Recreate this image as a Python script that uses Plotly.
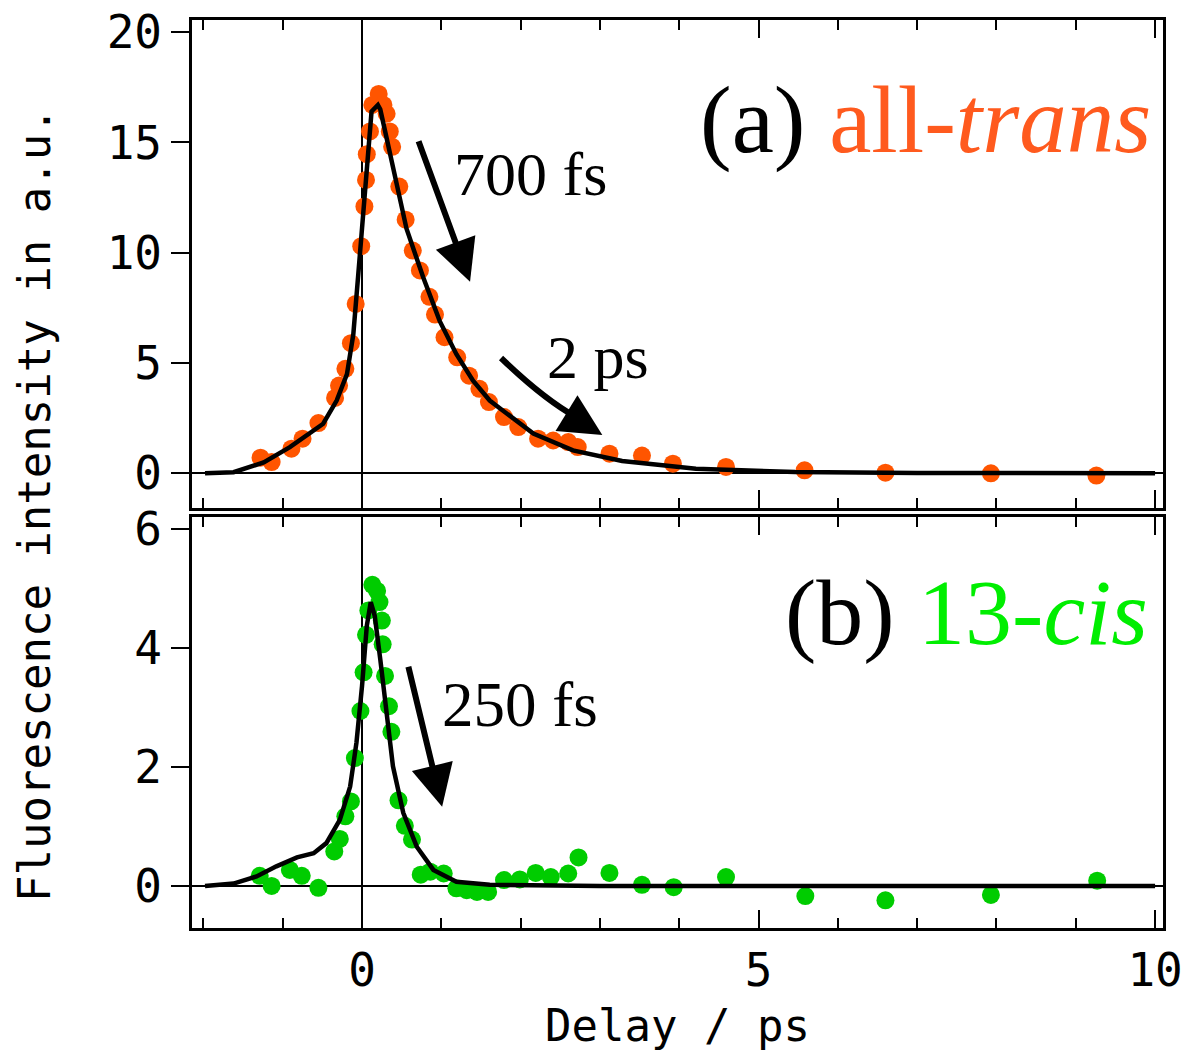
import plotly.graph_objects as go

# ---------------- data ----------------
trans_x = [-1.28, -1.14, -0.89, -0.75, -0.55, -0.34, -0.29, -0.21, -0.14, -0.08, -0.01, 0.03, 0.05, 0.06,
           0.10, 0.13, 0.21, 0.27, 0.31, 0.35, 0.38, 0.47, 0.55, 0.64, 0.73, 0.85, 0.92, 1.04, 1.20, 1.35,
           1.48, 1.60, 1.79, 1.97, 2.22, 2.41, 2.60, 2.72, 3.12, 3.53, 3.92, 4.59, 5.58, 6.60, 7.93, 9.26]
trans_y = [0.71, 0.51, 1.12, 1.57, 2.28, 3.42, 3.98, 4.74, 5.9, 7.68, 10.3, 12.1, 13.3, 14.47,
           15.5, 16.7, 17.2, 16.7, 16.3, 15.5, 14.8, 13.0, 11.5, 10.1, 9.2, 8.0, 7.2, 6.17, 5.26, 4.43,
           3.83, 3.23, 2.55, 2.1, 1.57, 1.49, 1.42, 1.19, 0.89, 0.81, 0.44, 0.29, 0.14, 0.03, 0.0, -0.1]

trans_fit_x = [-1.98, -1.62, -1.24, -0.91, -0.49, -0.32, -0.19, -0.11, -0.05, 0.02, 0.08, 0.12, 0.20,
               0.23, 0.31, 0.42, 0.56, 0.77, 0.98, 1.19, 1.40, 1.61, 1.72, 2.16, 2.66, 3.28, 4.21, 5.46,
               7.0, 10.0]
trans_fit_y = [0.0, 0.05, 0.5, 1.19, 2.25, 3.3, 4.5, 6.3, 8.9, 11.9, 14.9, 16.4, 16.7,
               16.5, 15.2, 13.4, 11.1, 8.9, 6.9, 5.4, 4.2, 3.3, 3.0, 1.8, 1.04, 0.56, 0.21, 0.06,
               0.02, 0.0]

cis_x = [-1.29, -1.14, -0.91, -0.76, -0.55, -0.35, -0.28, -0.21, -0.14, -0.09, -0.02, 0.02, 0.05, 0.08,
         0.13, 0.19, 0.22, 0.25, 0.26, 0.29, 0.34, 0.37, 0.46, 0.54, 0.63, 0.74, 0.86, 1.03, 1.19, 1.32,
         1.45, 1.59, 1.79, 1.99, 2.19, 2.38, 2.60, 2.73, 3.12, 3.53, 3.93, 4.59, 5.59, 6.60, 7.93, 9.27]
cis_y = [0.17, 0.0, 0.27, 0.17, -0.03, 0.58, 0.79, 1.17, 1.42, 2.15, 2.94, 3.59, 4.22, 4.63,
         5.06, 4.96, 4.77, 4.46, 4.06, 3.53, 3.02, 2.59, 1.44, 1.01, 0.78, 0.19, 0.24, 0.21, -0.04, -0.07,
         -0.1, -0.1, 0.1, 0.11, 0.22, 0.15, 0.21, 0.48, 0.22, 0.02, -0.02, 0.15, -0.17, -0.24, -0.15, 0.09]

cis_fit_x = [-1.98, -1.62, -1.33, -1.08, -0.82, -0.61, -0.45, -0.28, -0.15, -0.07, 0.0, 0.06, 0.11,
             0.16, 0.23, 0.31, 0.39, 0.52, 0.69, 0.9, 1.19, 1.61, 3.0, 10.0]
cis_fit_y = [0.0, 0.04, 0.16, 0.33, 0.48, 0.55, 0.72, 1.11, 1.67, 2.41, 3.36, 4.37, 4.77,
             4.54, 3.81, 2.91, 2.01, 1.23, 0.66, 0.27, 0.07, 0.02, 0.0, 0.0]

x_ticks = [0, 5, 10]
top_y_ticks = [0, 5, 10, 15, 20]
bot_y_ticks = [0, 2, 4, 6]

ORANGE = "#ff5500"
ORANGE_TXT = "#ff5a1e"
GREEN = "#00cc00"
GREEN_TXT = "#00ee00"
SANS = "DejaVu Sans Mono"
SERIF = "Liberation Serif"

fig = go.Figure()

fig.add_trace(go.Scatter(x=trans_x, y=trans_y, mode="markers",
                         marker=dict(color=ORANGE, size=18, line=dict(width=0)),
                         xaxis="x", yaxis="y", showlegend=False))
fig.add_trace(go.Scatter(x=trans_fit_x, y=trans_fit_y, mode="lines",
                         line=dict(color="black", width=4.5),
                         xaxis="x", yaxis="y", showlegend=False))
fig.add_trace(go.Scatter(x=cis_x, y=cis_y, mode="markers",
                         marker=dict(color=GREEN, size=18, line=dict(width=0)),
                         xaxis="x2", yaxis="y2", showlegend=False))
fig.add_trace(go.Scatter(x=cis_fit_x, y=cis_fit_y, mode="lines",
                         line=dict(color="black", width=4.5),
                         xaxis="x2", yaxis="y2", showlegend=False))

W, H = 1188, 1057
xdom = [192 / W, 1163 / W]
ytop = [1 - 508 / H, 1 - 20 / H]
ybot = [1 - 928 / H, 1 - 517 / H]

xcommon = dict(range=[-2.144, 10.10], tickvals=x_ticks, ticks="inside", ticklen=18, tickwidth=2,
               tickcolor="black", showline=True, linecolor="black", linewidth=2.5, mirror="ticks",
               showgrid=False, zeroline=True, zerolinecolor="black", zerolinewidth=1.5,
               automargin=False,
               minor=dict(dtick=1, tick0=0, ticks="inside", ticklen=10, tickwidth=2, tickcolor="black",
                          showgrid=False),
               tickfont=dict(family=SANS, size=46, color="black"), domain=xdom)
ycommon = dict(ticks="outside", ticklen=18, tickwidth=2, tickcolor="black", showline=True,
               linecolor="black", linewidth=2.5, mirror=True, showgrid=False, zeroline=True,
               zerolinecolor="black", zerolinewidth=1.5, automargin=False,
               tickfont=dict(family=SANS, size=46, color="black"))

fig.update_layout(
    width=W, height=H,
    margin=dict(l=0, r=0, t=0, b=0, pad=0),
    plot_bgcolor="white", paper_bgcolor="white",
    font=dict(family=SANS, color="black"),
    xaxis=dict(**xcommon, anchor="y", showticklabels=False),
    yaxis=dict(**ycommon, domain=ytop, range=[-1.57, 20.55], tickvals=top_y_ticks, anchor="x"),
    xaxis2=dict(**xcommon, anchor="y2", showticklabels=True),
    yaxis2=dict(**ycommon, domain=ybot, range=[-0.706, 6.2], tickvals=bot_y_ticks, anchor="x2"),
)

# curved arrow body (2 ps)
fig.add_shape(type="path", xref="x", yref="y",
              path="M 1.753,5.23 Q 2.28,3.40 2.70,2.55",
              line=dict(color="black", width=6))

annotations = [
    # titles
    dict(text="Fluorescence intensity in a.u.", xref="paper", yref="paper", x=35 / W, y=1 - 505 / H,
         textangle=-90, showarrow=False, font=dict(family=SANS, size=44, color="black"),
         xanchor="center", yanchor="middle"),
    dict(text="Delay / ps", xref="paper", yref="paper", x=677 / W, y=1 - 1025 / H,
         showarrow=False, font=dict(family=SANS, size=44, color="black"),
         xanchor="center", yanchor="middle"),
    # panel labels
    dict(text="(a) <span style='color:%s'>all-<i>trans</i></span>" % ORANGE_TXT, xref="x", yref="y",
         x=9.97, y=16.0, showarrow=False, xanchor="right", yanchor="middle",
         font=dict(family=SERIF, size=95, color="black")),
    dict(text="(b) <span style='color:%s'>13-<i>cis</i></span>" % GREEN_TXT, xref="x2", yref="y2",
         x=9.93, y=4.6, showarrow=False, xanchor="right", yanchor="middle",
         font=dict(family=SERIF, size=94, color="black")),
    dict(text="700 fs", xref="x", yref="y", x=1.135, y=13.58, showarrow=False, xanchor="left",
         yanchor="middle", font=dict(family=SERIF, size=62, color="black")),
    dict(text="2 ps", xref="x", yref="y", x=2.31, y=5.28, showarrow=False, xanchor="left",
         yanchor="middle", font=dict(family=SERIF, size=62, color="black")),
    dict(text="250 fs", xref="x2", yref="y2", x=0.98, y=3.04, showarrow=False, xanchor="left",
         yanchor="middle", font=dict(family=SERIF, size=63, color="black")),
    # arrows
    dict(text="", xref="x", yref="y", axref="x", ayref="y", x=1.362, y=8.68, ax=0.706, ay=15.12,
         showarrow=True, arrowhead=2, arrowwidth=6, arrowsize=1.4, arrowcolor="black", standoff=0),
    dict(text="", xref="x", yref="y", axref="x", ayref="y", x=3.03, y=1.74, ax=2.598, ay=2.69,
         showarrow=True, arrowhead=2, arrowwidth=6, arrowsize=1.4, arrowcolor="black", standoff=0),
    dict(text="", xref="x2", yref="y2", axref="x2", ayref="y2", x=1.01, y=1.33, ax=0.58, ay=3.71,
         showarrow=True, arrowhead=2, arrowwidth=6, arrowsize=1.4, arrowcolor="black", standoff=0),
]
fig.update_layout(annotations=annotations)

fig.write_html("out.html")
